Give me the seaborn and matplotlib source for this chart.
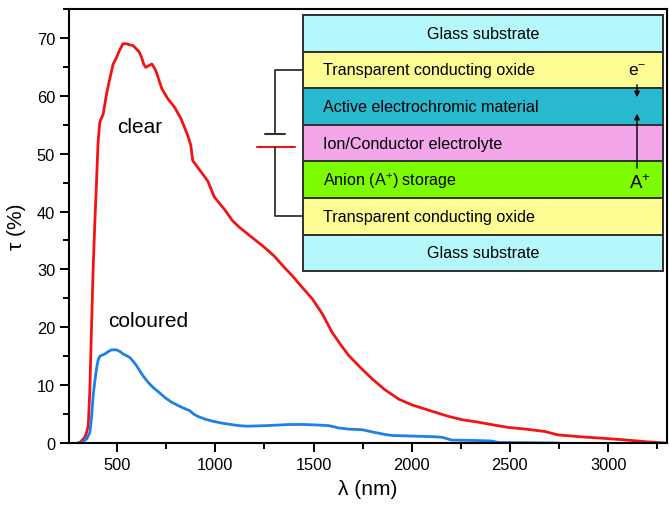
import matplotlib
matplotlib.use("Agg")
import matplotlib.pyplot as plt
from matplotlib.patches import Rectangle
from matplotlib.ticker import MultipleLocator
import pandas as pd
import seaborn as sns

# transmittance spectra
wl_clear = [300, 311, 319, 336, 345, 353, 361, 370, 378, 387, 395, 403, 412, 429, 446, 463, 480, 497,
            514, 530, 547, 564, 581, 598, 612, 624, 636, 646, 660, 677, 690, 700, 715, 728, 758, 793,
            826, 860, 875, 885, 911, 935, 961, 995, 1046, 1088, 1122, 1180, 1240, 1300, 1350, 1392,
            1440, 1494, 1545, 1595, 1640, 1680, 1740, 1798, 1860, 1933, 2000, 2102, 2187, 2260, 2339,
            2420, 2491, 2580, 2677, 2710, 2745, 2850, 2982, 3100, 3200, 3290]
tau_clear = [0.0, 0.1, 0.4, 1.0, 1.9, 3.0, 9.0, 20.5, 30.1, 38.5, 45.0, 52.0, 55.5, 56.8, 60.3, 63.0,
             65.5, 66.6, 68.0, 69.0, 69.0, 68.8, 68.7, 68.1, 67.6, 66.7, 65.4, 64.9, 65.2, 65.5, 64.8,
             64.1, 62.5, 61.2, 59.5, 58.0, 56.0, 53.1, 51.5, 48.8, 47.6, 46.5, 45.3, 42.5, 40.4, 38.4,
             37.3, 35.7, 34.1, 32.3, 30.4, 28.9, 27.0, 24.9, 22.3, 19.1, 16.9, 15.1, 13.0, 11.1, 9.3,
             7.6, 6.6, 5.5, 4.6, 4.0, 3.6, 3.1, 2.7, 2.4, 2.0, 1.7, 1.4, 1.1, 0.8, 0.5, 0.2, 0.0]

wl_col = [300, 319, 345, 361, 370, 378, 387, 395, 403, 412, 438, 455, 472, 497, 515, 530, 564, 580,
          598, 615, 632, 655, 683, 712, 742, 775, 809, 840, 869, 890, 911, 950, 995, 1040, 1080, 1120,
          1164, 1210, 1257, 1320, 1376, 1450, 1528, 1578, 1629, 1680, 1747, 1815, 1860, 1900, 2000,
          2102, 2153, 2204, 2300, 2407, 2441, 2600, 2750]
tau_col = [0.0, 0.1, 0.7, 1.8, 4.5, 8.2, 10.8, 12.8, 14.3, 15.0, 15.4, 15.8, 16.1, 16.1, 15.8, 15.4,
           14.8, 14.2, 13.4, 12.5, 11.6, 10.6, 9.6, 8.8, 7.9, 7.1, 6.5, 6.0, 5.6, 5.0, 4.6, 4.1, 3.7,
           3.4, 3.2, 3.0, 2.9, 2.95, 3.0, 3.1, 3.2, 3.2, 3.1, 3.0, 2.6, 2.4, 2.3, 1.8, 1.5, 1.3, 1.2,
           1.1, 1.0, 0.5, 0.45, 0.35, 0.1, 0.05, 0.0]

# device stack for the inset, top to bottom
layer_names = ["Glass substrate", "Transparent conducting oxide", "Active electrochromic material",
               "Ion/Conductor electrolyte", "Anion (A$^{+}$) storage", "Transparent conducting oxide",
               "Glass substrate"]
layer_colors = ["#b4f8fc", "#fcfc92", "#27b9cf", "#f3a6e9", "#7dfb00", "#fcfc92", "#b4f8fc"]

sns.set_style("ticks")
plt.rcParams['font.family'] = ['Liberation Sans', 'DejaVu Sans']
plt.rcParams['mathtext.fontset'] = 'custom'
plt.rcParams['mathtext.rm'] = 'Liberation Sans'
plt.rcParams['mathtext.it'] = 'Liberation Sans'
for k in ['text.color', 'axes.labelcolor', 'xtick.color', 'ytick.color']:
    plt.rcParams[k] = 'black'

W, H = 669, 506
fig = plt.figure(figsize=(W / 100, H / 100), dpi=100)
ax = fig.add_axes([69 / W, (H - 444) / H, (667 - 69) / W, (444 - 10) / H])

df = pd.concat([
    pd.DataFrame({"wl": wl_clear, "tau": tau_clear, "state": "clear"}),
    pd.DataFrame({"wl": wl_col, "tau": tau_col, "state": "coloured"}),
])
sns.lineplot(data=df, x="wl", y="tau", hue="state", sort=False, estimator=None,
             palette={"clear": "#f01414", "coloured": "#1f7fe8"}, linewidth=2.0,
             legend=False, ax=ax)

ax.set_xlim(255, 3300)
ax.set_ylim(0, 75)
ax.xaxis.set_major_locator(MultipleLocator(500))
ax.xaxis.set_minor_locator(MultipleLocator(250))
ax.yaxis.set_major_locator(MultipleLocator(10))
ax.yaxis.set_minor_locator(MultipleLocator(5))
ax.tick_params(which="major", length=6.5, width=1.4, labelsize=11.8, direction="out")
ax.tick_params(which="minor", length=4.3, width=1.4, direction="out")
for s in ax.spines.values():
    s.set_linewidth(1.5)
    s.set_color("black")
ax.set_xlabel("λ (nm)", fontsize=15, labelpad=5)
ax.set_ylabel("τ (%)", fontsize=15, labelpad=8)

ax.text(615, 54.7, "clear", fontsize=15, ha="center", va="center")
ax.text(656, 21.1, "coloured", fontsize=15, ha="center", va="center")

# inset drawn on an overlay in pixel units
ov = fig.add_axes([0, 0, 1, 1])
ov.set_xlim(0, W)
ov.set_ylim(H, 0)
ov.axis("off")
ov.patch.set_visible(False)

box_l, box_r, box_t, lay_h = 303, 663, 16, 36.6
for i, (name, col) in enumerate(zip(layer_names, layer_colors)):
    y0 = box_t + i * lay_h
    ov.add_patch(Rectangle((box_l, y0), box_r - box_l, lay_h, facecolor=col,
                           edgecolor="#303030", linewidth=1.4))
    if name == "Glass substrate":
        ov.text((box_l + box_r) / 2, y0 + lay_h / 2, name, fontsize=11.6, ha="center", va="center")
    else:
        ov.text(box_l + 20, y0 + lay_h / 2, name, fontsize=11.6, ha="left", va="center")

# external circuit with battery
y_top = box_t + 1.5 * lay_h
y_bot = box_t + 5.5 * lay_h
wx = 275
ov.plot([box_l, wx, wx], [y_top, y_top, 135], color="#303030", lw=1.3)
ov.plot([265, 285], [135, 135], color="#303030", lw=1.5)
ov.plot([257, 295], [148, 148], color="#e01818", lw=1.5)
ov.plot([wx, wx, box_l], [148, y_bot, y_bot], color="#303030", lw=1.3)

# charge arrows
ax_x = 637
ov.text(ax_x, y_top, "e$^{-}$", fontsize=12.5, ha="center", va="center")
ov.annotate("", xy=(ax_x, 101), xytext=(ax_x, 83),
            arrowprops=dict(arrowstyle="-|>", color="black", lw=1.0, mutation_scale=8))
ov.annotate("", xy=(ax_x, 112), xytext=(ax_x, 172),
            arrowprops=dict(arrowstyle="-|>", color="black", lw=1.0, mutation_scale=8))
ov.text(ax_x + 3, 184, "A$^{+}$", fontsize=13.5, ha="center", va="center")

fig.savefig("out.png", dpi=100)
